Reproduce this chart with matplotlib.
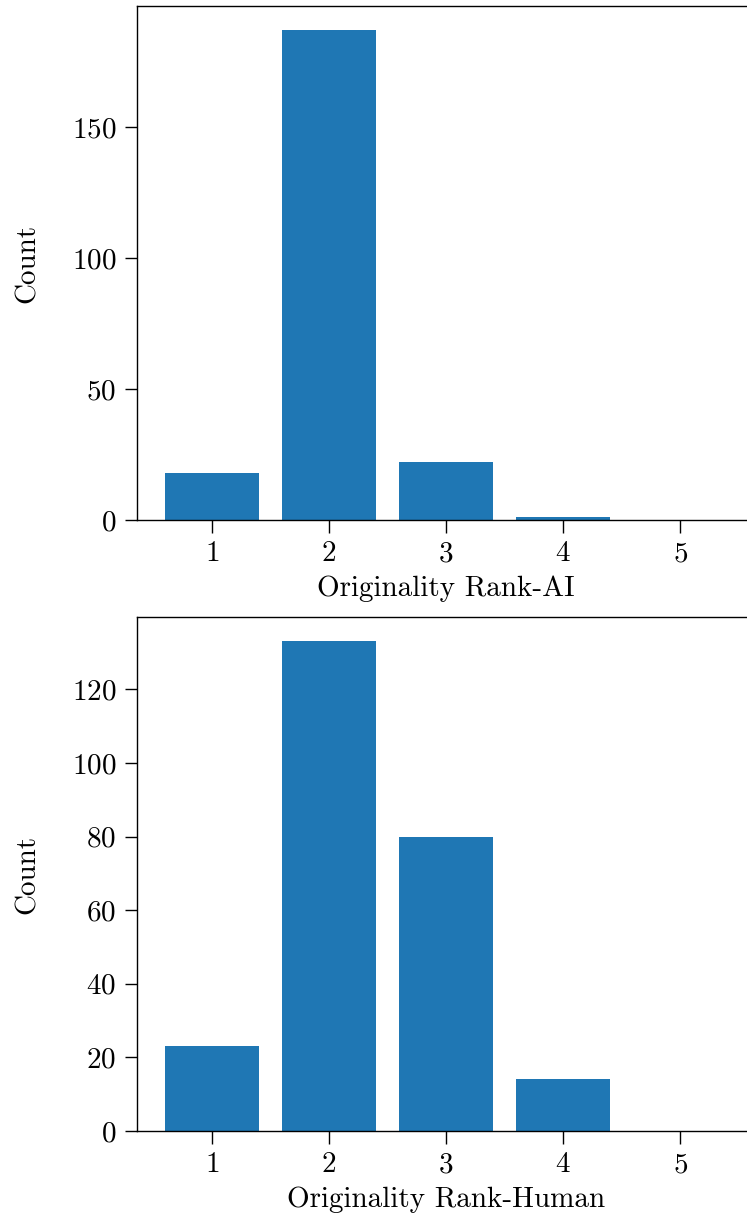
import numpy as np
import matplotlib
matplotlib.use("Agg")
import matplotlib.pyplot as plt
from matplotlib.ticker import MultipleLocator

plt.rcParams['font.family'] = ['cmr10', 'DejaVu Serif']
plt.rcParams['axes.formatter.use_mathtext'] = True

ranks = [1, 2, 3, 4, 5]
counts_ai = [18, 187, 22, 1, 0]
counts_human = [23, 133, 80, 14, 0]
xlabels = ["Originality Rank-AI", "Originality Rank-Human"]
ysteps = [50, 20]

W, H = 747, 1218
fs = 21
fig = plt.figure(figsize=(W / 100, H / 100), dpi=100)

# axes boxes in pixels: left, top, right, bottom
boxes = [(137, 6, 755, 520), (137, 617, 755, 1131)]
for (l, t, r, b), counts, xl, st in zip(boxes, [counts_ai, counts_human], xlabels, ysteps):
    ax = fig.add_axes([l / W, 1 - b / H, (r - l) / W, (b - t) / H])
    ax.bar(ranks, counts, width=0.8, color="#1f77b4")
    ax.set_ylim(0, max(counts) * 1.05)
    ax.set_xticks(ranks)
    ax.yaxis.set_major_locator(MultipleLocator(st))
    ax.set_xlabel(xl, fontsize=fs, labelpad=6)
    ax.set_ylabel("Count", fontsize=fs, labelpad=22)
    ax.tick_params(length=9, width=1, labelsize=fs, pad=6)
    for s in ax.spines.values():
        s.set_linewidth(1)
    ax.spines['right'].set_visible(False)

fig.savefig("out.png", dpi=100)
